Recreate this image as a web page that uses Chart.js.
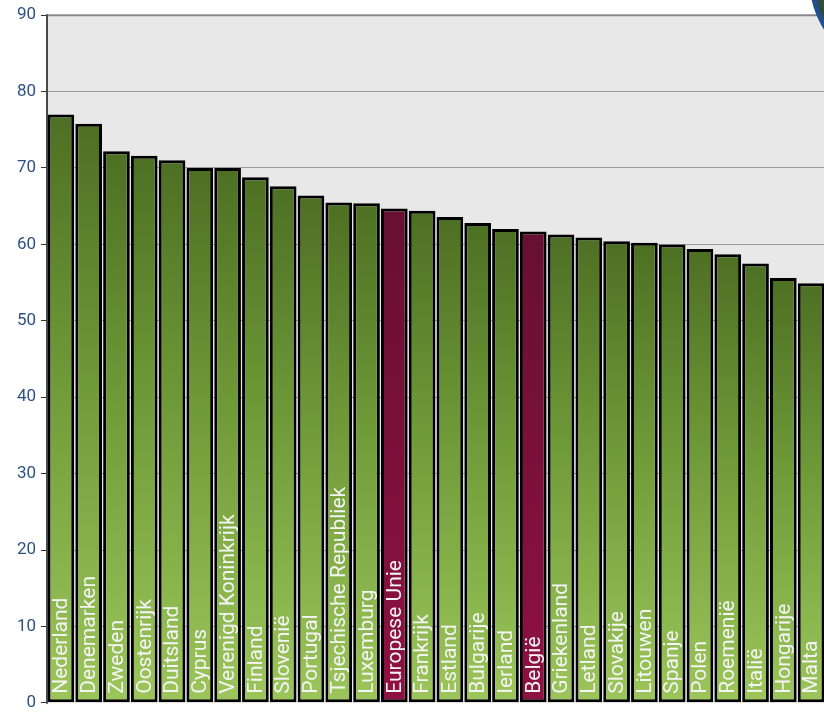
<!DOCTYPE html>
<html>
<head>
<meta charset="utf-8">
<script src="https://cdn.jsdelivr.net/npm/chart.js@4"></script>
<style>
  html, body { margin: 0; padding: 0; background: #fff; overflow: hidden; }
  #wrap { width: 830px; height: 718px; }
</style>
</head>
<body>
<div id="wrap"><canvas id="chart"></canvas></div>
<script>
const countries = ["Nederland", "Denemarken", "Zweden", "Oostenrijk", "Duitsland", "Cyprus",
  "Verenigd Koninkrijk", "Finland", "Slovenië", "Portugal", "Tsjechische Republiek", "Luxemburg",
  "Europese Unie", "Frankrijk", "Estland", "Bulgarije", "Ierland", "België", "Griekenland",
  "Letland", "Slovakije", "Litouwen", "Spanje", "Polen", "Roemenië", "Italië", "Hongarije", "Malta"];
const values = [77.0, 75.8, 72.2, 71.6, 71.0, 70.0, 70.0, 68.8, 67.6, 66.4, 65.5, 65.4,
  64.7, 64.4, 63.6, 62.8, 62.0, 61.7, 61.3, 60.9, 60.4, 60.2, 60.0, 59.4, 58.7, 57.5, 55.6, 54.9];
const highlighted = ["Europese Unie", "België"];
const yTicks = [0, 10, 20, 30, 40, 50, 60, 70, 80, 90];

// fill per bar, dark at the top and light at the bottom
function barFill(ctx) {
  const chart = ctx.chart;
  const area = chart.chartArea;
  if (!area) return "#7a9e3e";
  const y = chart.scales.y;
  const top = y.getPixelForValue(values[ctx.dataIndex]);
  const bottom = y.getPixelForValue(0);
  const g = chart.ctx.createLinearGradient(0, top, 0, bottom);
  if (highlighted.includes(countries[ctx.dataIndex])) {
    g.addColorStop(0, "#671031");
    g.addColorStop(1, "#8f1142");
  } else {
    g.addColorStop(0, "#4d6f23");
    g.addColorStop(0.45, "#6f9a38");
    g.addColorStop(1, "#9cc65b");
  }
  return g;
}

const plotBackground = {
  id: "plotBackground",
  beforeDraw(chart) {
    const { ctx, chartArea: a } = chart;
    ctx.save();
    ctx.fillStyle = "#e8e8e8";
    ctx.fillRect(a.left, a.top, a.right - a.left, a.bottom - a.top);
    ctx.restore();
  }
};

const barLabels = {
  id: "barLabels",
  afterDatasetsDraw(chart) {
    const { ctx } = chart;
    const meta = chart.getDatasetMeta(0);
    const base = chart.scales.y.getPixelForValue(0);
    ctx.save();
    ctx.fillStyle = "#f4f4f4";
    ctx.font = "21px Roboto, 'DejaVu Sans'";
    ctx.textAlign = "left";
    ctx.textBaseline = "middle";
    meta.data.forEach((bar, i) => {
      ctx.save();
      ctx.translate(bar.x + 1, base - 9);
      ctx.rotate(-Math.PI / 2);
      ctx.fillText(countries[i], 0, 0);
      ctx.restore();
    });
    ctx.restore();
  }
};

const frame = {
  id: "frame",
  afterDraw(chart) {
    const { ctx, chartArea: a } = chart;
    ctx.save();
    ctx.strokeStyle = "#8a8a8a";
    ctx.lineWidth = 2;
    ctx.beginPath();
    ctx.moveTo(a.left, a.top);
    ctx.lineTo(a.right, a.top);
    ctx.stroke();
    ctx.strokeStyle = "#4a4a4a";
    ctx.beginPath();
    ctx.moveTo(a.left, a.top - 1);
    ctx.lineTo(a.left, a.bottom + 1);
    ctx.stroke();
    // blue ring peeking in at the top right
    ctx.beginPath();
    ctx.arc(902, -20, 90, 0, Math.PI * 2);
    ctx.fillStyle = "#2f4d3a";
    ctx.fill();
    ctx.lineWidth = 5;
    ctx.strokeStyle = "#1f4f8f";
    ctx.stroke();
    ctx.restore();
  }
};

new Chart(document.getElementById("chart"), {
  type: "bar",
  data: {
    labels: countries,
    datasets: [{
      data: values,
      backgroundColor: barFill,
      borderColor: "#000",
      borderWidth: 3,
      borderSkipped: false,
      barPercentage: 0.96,
      categoryPercentage: 1
    }]
  },
  options: {
    responsive: true,
    maintainAspectRatio: false,
    animation: false,
    layout: { padding: { top: 15, bottom: 15, right: 5 } },
    plugins: { legend: { display: false }, tooltip: { enabled: false } },
    scales: {
      x: { display: false },
      y: {
        min: 0,
        max: 90,
        afterFit(scale) { scale.width = 47; },
        afterBuildTicks(scale) { scale.ticks = yTicks.map(v => ({ value: v })); },
        border: { display: false },
        grid: {
          color: (c) => (c.tick && (c.tick.value === 0 || c.tick.value === 90)) ? "rgba(0,0,0,0)" : "#9a9a9a",
          tickColor: "#333",
          tickLength: 6,
          lineWidth: 1
        },
        ticks: {
          color: "#2b5186",
          font: { family: "Roboto, 'DejaVu Sans'", size: 17 },
          padding: 5
        }
      }
    }
  },
  plugins: [plotBackground, barLabels, frame]
});
</script>
</body>
</html>
